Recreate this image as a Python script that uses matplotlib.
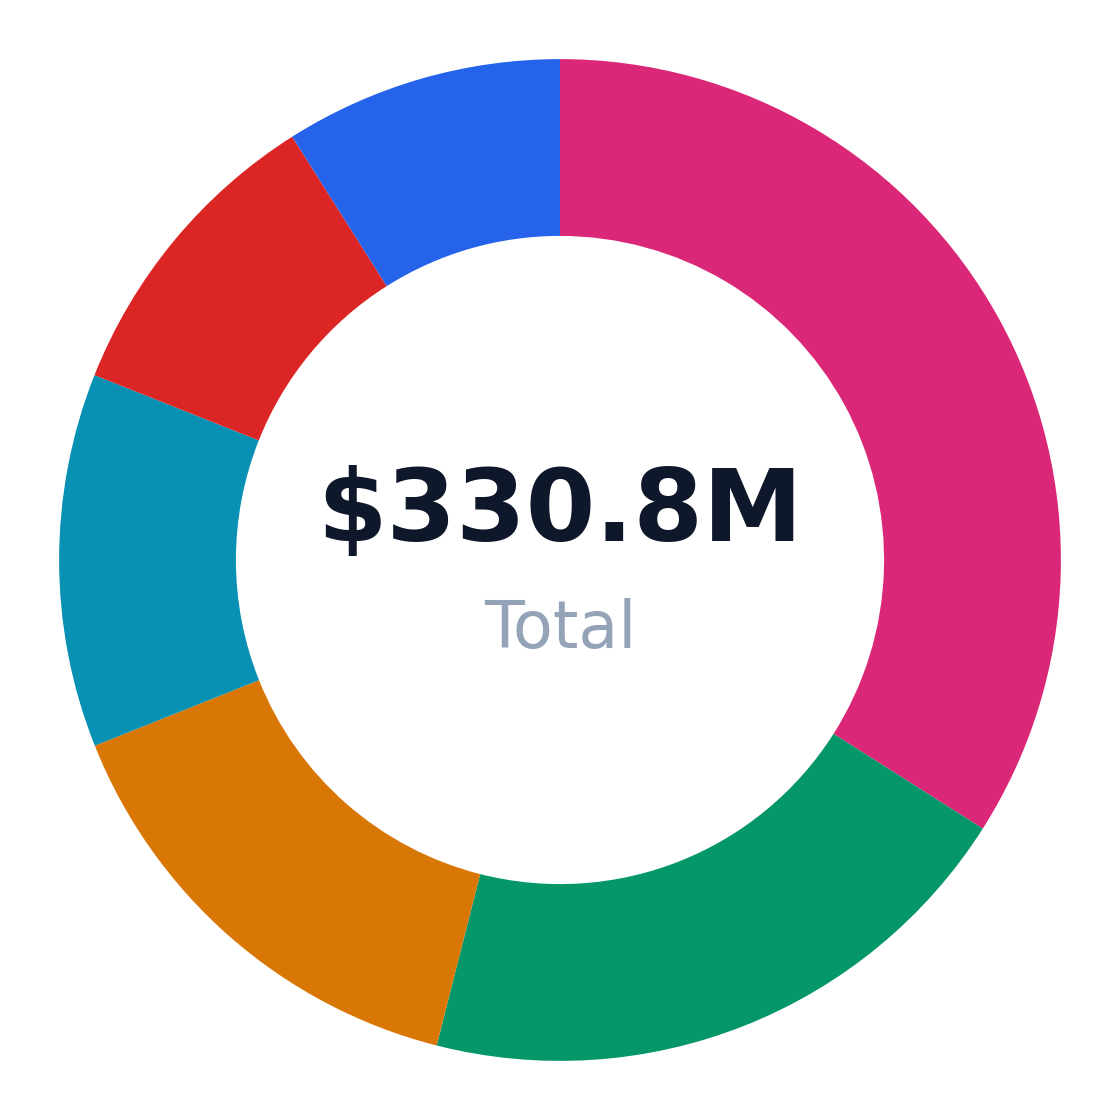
import matplotlib
matplotlib.use('Agg')
import matplotlib.pyplot as plt

# Slice data, clockwise from 12 o'clock
labels = ['Pink', 'Green', 'Orange', 'Teal', 'Red', 'Blue']
values = [112.5, 66.0, 49.6, 39.9, 33.1, 29.7]
colors = ['#db2777', '#059669', '#d97706', '#0891b2', '#dc2626', '#2563eb']
total_label = '$330.8M'
sub_label = 'Total'

fig = plt.figure(figsize=(11.2, 11.2), dpi=100)
ax = fig.add_axes([0, 0, 1, 1])

ax.pie(values, colors=colors, startangle=90, counterclock=False,
       radius=1.0, wedgeprops=dict(width=0.353, edgecolor='none'))

ax.text(0, 0.092, total_label.replace('$', r'\$'), ha='center', va='center',
        fontsize=72, fontweight='bold', color='#0f172a')
ax.text(0, -0.139, sub_label, ha='center', va='center',
        fontsize=47, color='#94a3b8')

ax.set_xlim(-1.118, 1.118)
ax.set_ylim(-1.118, 1.118)
ax.set_aspect('equal')
ax.axis('off')

plt.savefig('out.png', dpi=100, facecolor='white')
